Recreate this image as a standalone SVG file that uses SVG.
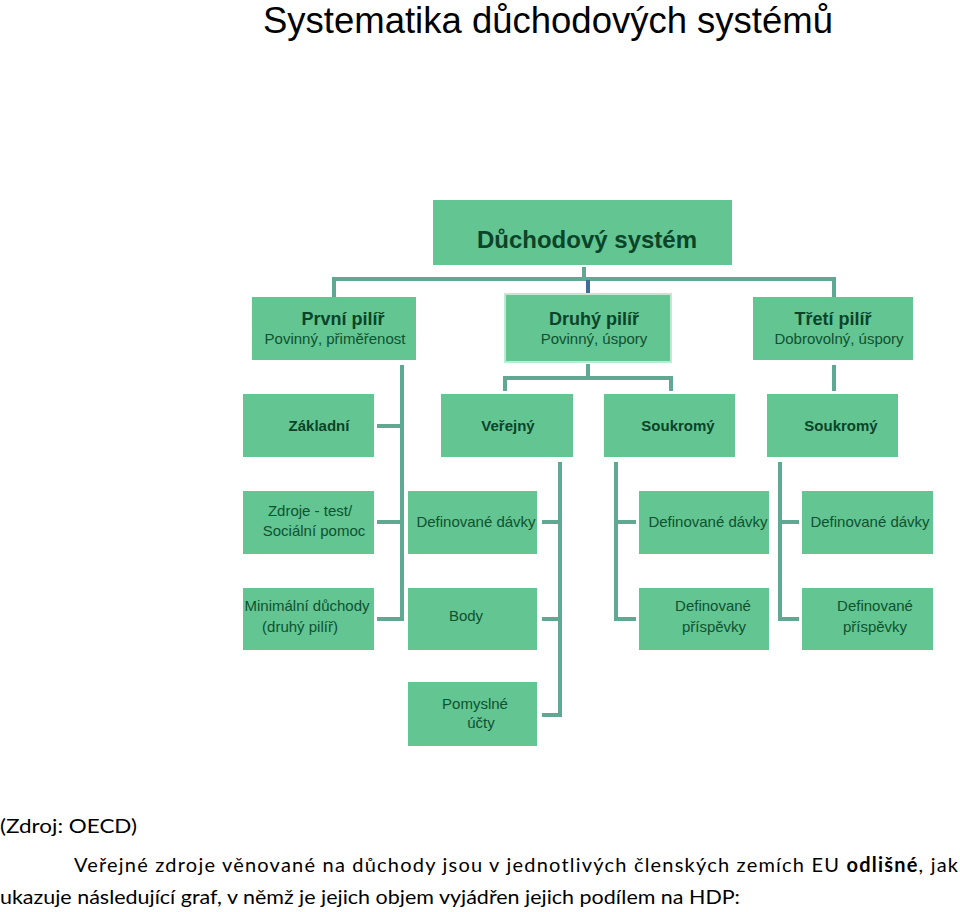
<svg xmlns="http://www.w3.org/2000/svg" width="960" height="912" viewBox="0 0 960 912">
<style>
.box{fill:#62c592}
.t{font-family:"Liberation Sans",Arial,sans-serif;fill:#0f5230;text-anchor:middle}
.b{font-weight:bold;fill:#0b4428}
.n{font-size:15px}
.c{fill:none;stroke:#5fa992;stroke-width:4}
.p{font-family:Lato,"Liberation Sans",sans-serif;font-size:20px;fill:#000}
</style>
<rect width="960" height="912" fill="#fff"/>
<text x="548" y="33" font-family="Liberation Sans,Arial,sans-serif" font-size="36.5" text-anchor="middle" fill="#000">Systematika důchodových systémů</text>

<g id="connectors">
<path class="c" d="M334 297V279H834V297"/>
<path class="c" d="M584 267V280"/>
<path d="M588 280V293" stroke="#3e6f9a" stroke-width="4" fill="none"/>
<path class="c" d="M402 365V619H377M402 426H377M402 522H377"/>
<path class="c" d="M588 364V378M505 391V378H671V391"/>
<path class="c" d="M834 365V391"/>
<path class="c" d="M560 462V715H542M560 522H542M560 619H542"/>
<path class="c" d="M616 462V619H636M616 522H636"/>
<path class="c" d="M780 462V619H799M780 522H799"/>
</g>

<g id="n-root"><rect class="box" x="433" y="200" width="299" height="65"/><text class="t b" x="587" y="248" font-size="24">Důchodový systém</text></g>

<g id="n-p1"><rect class="box" x="252" y="297" width="164" height="63"/><text class="t b" x="343" y="325" font-size="18">První pilíř</text><text class="t n" x="335" y="344">Povinný, přiměřenost</text></g>
<g id="n-p2"><rect class="box" x="505" y="294" width="166" height="68" stroke="#bfe9d2" stroke-width="2"/><text class="t b" x="594" y="325" font-size="18">Druhý pilíř</text><text class="t n" x="594" y="344">Povinný, úspory</text></g>
<g id="n-p3"><rect class="box" x="753" y="297" width="160" height="63"/><text class="t b" x="833" y="325" font-size="18">Třetí pilíř</text><text class="t n" x="839" y="344">Dobrovolný, úspory</text></g>

<g id="n-zakladni"><rect class="box" x="243" y="394" width="131" height="63"/><text class="t b" x="319" y="431" font-size="15">Základní</text></g>
<g id="n-verejny"><rect class="box" x="441" y="394" width="132" height="63"/><text class="t b" x="508" y="431" font-size="15">Veřejný</text></g>
<g id="n-soukromy1"><rect class="box" x="604" y="394" width="131" height="63"/><text class="t b" x="678" y="431" font-size="15">Soukromý</text></g>
<g id="n-soukromy2"><rect class="box" x="767" y="394" width="131" height="63"/><text class="t b" x="841" y="431" font-size="15">Soukromý</text></g>

<g id="n-zdroje"><rect class="box" x="243" y="491" width="131" height="63"/><text class="t n" x="310" y="516">Zdroje  - test/</text><text class="t n" x="314" y="536">Sociální pomoc</text></g>
<g id="n-dd1"><rect class="box" x="408" y="491" width="129" height="63"/><text class="t n" x="476" y="527">Definované dávky</text></g>
<g id="n-dd2"><rect class="box" x="639" y="491" width="130" height="63"/><text class="t n" x="708" y="527">Definované dávky</text></g>
<g id="n-dd3"><rect class="box" x="802" y="491" width="131" height="63"/><text class="t n" x="870" y="527">Definované dávky</text></g>

<g id="n-minimalni"><rect class="box" x="243" y="588" width="131" height="62"/><text class="t n" x="307" y="611">Minimální důchody</text><text class="t n" x="300" y="632">(druhý pilíř)</text></g>
<g id="n-body"><rect class="box" x="408" y="588" width="129" height="62"/><text class="t n" x="466" y="621">Body</text></g>
<g id="n-dp1"><rect class="box" x="639" y="588" width="130" height="62"/><text class="t n" x="713" y="611">Definované</text><text class="t n" x="714" y="632">příspěvky</text></g>
<g id="n-dp2"><rect class="box" x="802" y="588" width="131" height="62"/><text class="t n" x="875" y="611">Definované</text><text class="t n" x="875" y="632">příspěvky</text></g>

<g id="n-pomyslne"><rect class="box" x="408" y="682" width="129" height="64"/><text class="t n" x="475" y="709">Pomyslné</text><text class="t n" x="481" y="728">účty</text></g>

<text class="p" x="0" y="833" textLength="137" lengthAdjust="spacingAndGlyphs">(Zdroj: OECD)</text>
<text class="p" x="74" y="872" textLength="884" lengthAdjust="spacing">Veřejné zdroje věnované na důchody jsou v jednotlivých členských zemích EU <tspan font-weight="bold">odlišné</tspan>, jak</text>
<text class="p" x="0" y="904" textLength="740" lengthAdjust="spacingAndGlyphs">ukazuje následující graf, v němž je jejich objem vyjádřen jejich podílem na HDP:</text>
</svg>
